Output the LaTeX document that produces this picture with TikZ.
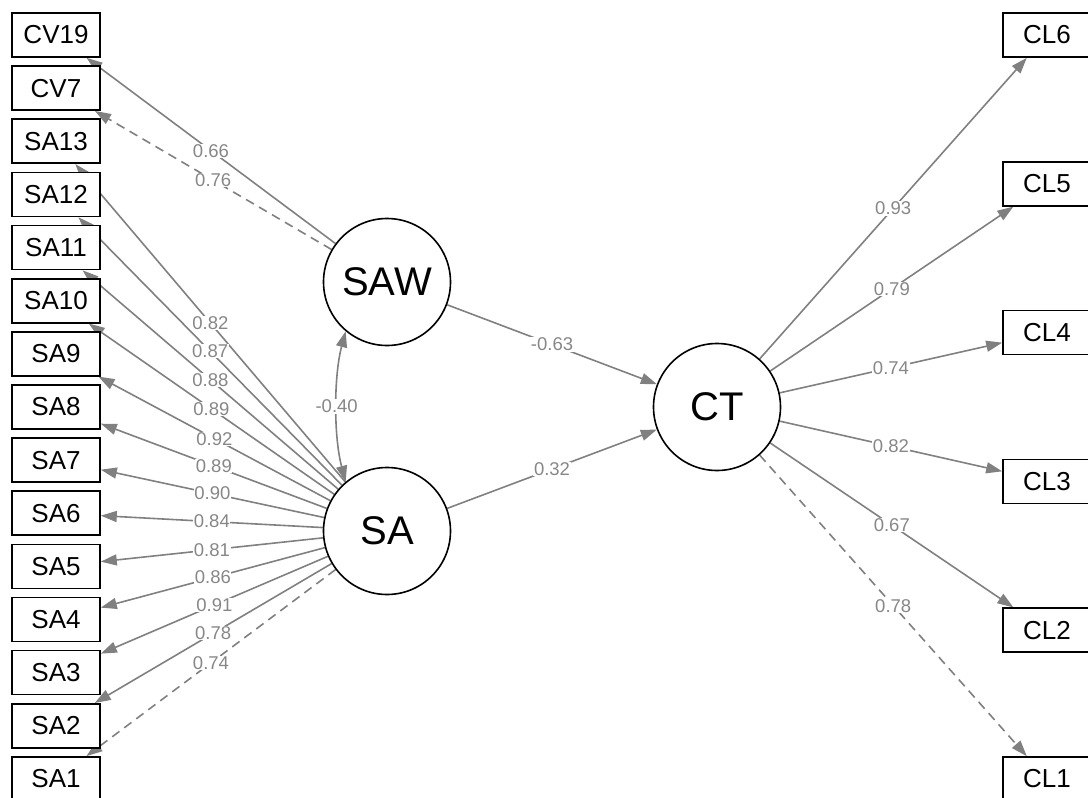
\documentclass[tikz,border=0pt]{standalone}
\usepackage{fontspec}
\setmainfont{Liberation Sans}
\usetikzlibrary{arrows.meta,backgrounds}
\definecolor{edgegray}{HTML}{808080}
\definecolor{labgray}{HTML}{878787}
\begin{document}
\begin{tikzpicture}[x=1pt,y=-1pt,
 manifest/.style={draw=black,line width=1.6pt,fill=white,minimum width=88pt,minimum height=44pt,inner sep=0pt,font=\fontsize{26}{26}\selectfont},
 latent/.style={draw=black,line width=1.6pt,fill=white,circle,minimum size=127pt,inner sep=0pt,font=\fontsize{40}{40}\selectfont},
 edge/.style={draw=edgegray,line width=1.6pt,-{Triangle[length=16pt,width=11pt]}},
 dashedge/.style={edge,dash pattern=on 9pt off 6pt},
 covedge/.style={draw=edgegray,line width=1.6pt,{Triangle[length=16pt,width=11pt]}-{Triangle[length=16pt,width=11pt]}},
 lab/.style={fill=white,text=labgray,inner sep=0.6pt,font=\fontsize{18.5}{18.5}\selectfont}]
\useasboundingbox (0,0) rectangle (1088,798);
% manifest nodes, left column
\foreach \n [count=\i from 0] in {CV19,CV7,SA13,SA12,SA11,SA10,SA9,SA8,SA7,SA6,SA5,SA4,SA3,SA2,SA1}
  \node[manifest] (\n) at (56,35+\i*53.14) {\n};
% manifest nodes, right column
\foreach \n [count=\i from 0] in {CL6,CL5,CL4,CL3,CL2,CL1}
  \node[manifest] (\n) at (1047,35+\i*148.8) {\n};
% latent nodes
\node[latent] (SAW) at (387,282) {SAW};
\node[latent] (SA) at (387,531) {SA};
\node[latent] (CT) at (717,407) {CT};
\begin{pgfonlayer}{background}
\draw[edge] (SAW) -- node[lab]{0.66} (CV19);
\draw[dashedge] (SAW) -- node[lab]{0.76} (CV7);
\foreach \t/\v in {SA13/0.82,SA12/0.87,SA11/0.88,SA10/0.89,SA9/0.92,SA8/0.89,SA7/0.90,SA6/0.84,SA5/0.81,SA4/0.86,SA3/0.91,SA2/0.78}
  \draw[edge] (SA) -- node[lab]{\v} (\t);
\draw[dashedge] (SA) -- node[lab]{0.74} (SA1);
\foreach \t/\v in {CL6/0.93,CL5/0.79,CL4/0.74,CL3/0.82,CL2/0.67}
  \draw[edge] (CT) -- node[lab]{\v} (\t);
\draw[dashedge] (CT) -- node[lab]{0.78} (CL1);
\draw[edge] (SAW) -- node[lab]{-0.63} (CT);
\draw[edge] (SA) -- node[lab]{0.32} (CT);
\draw[covedge] (SAW.230) .. controls +(-12,45) and +(-12,-45) .. node[lab]{-0.40} (SA.130);
\end{pgfonlayer}
\end{tikzpicture}
\end{document}
